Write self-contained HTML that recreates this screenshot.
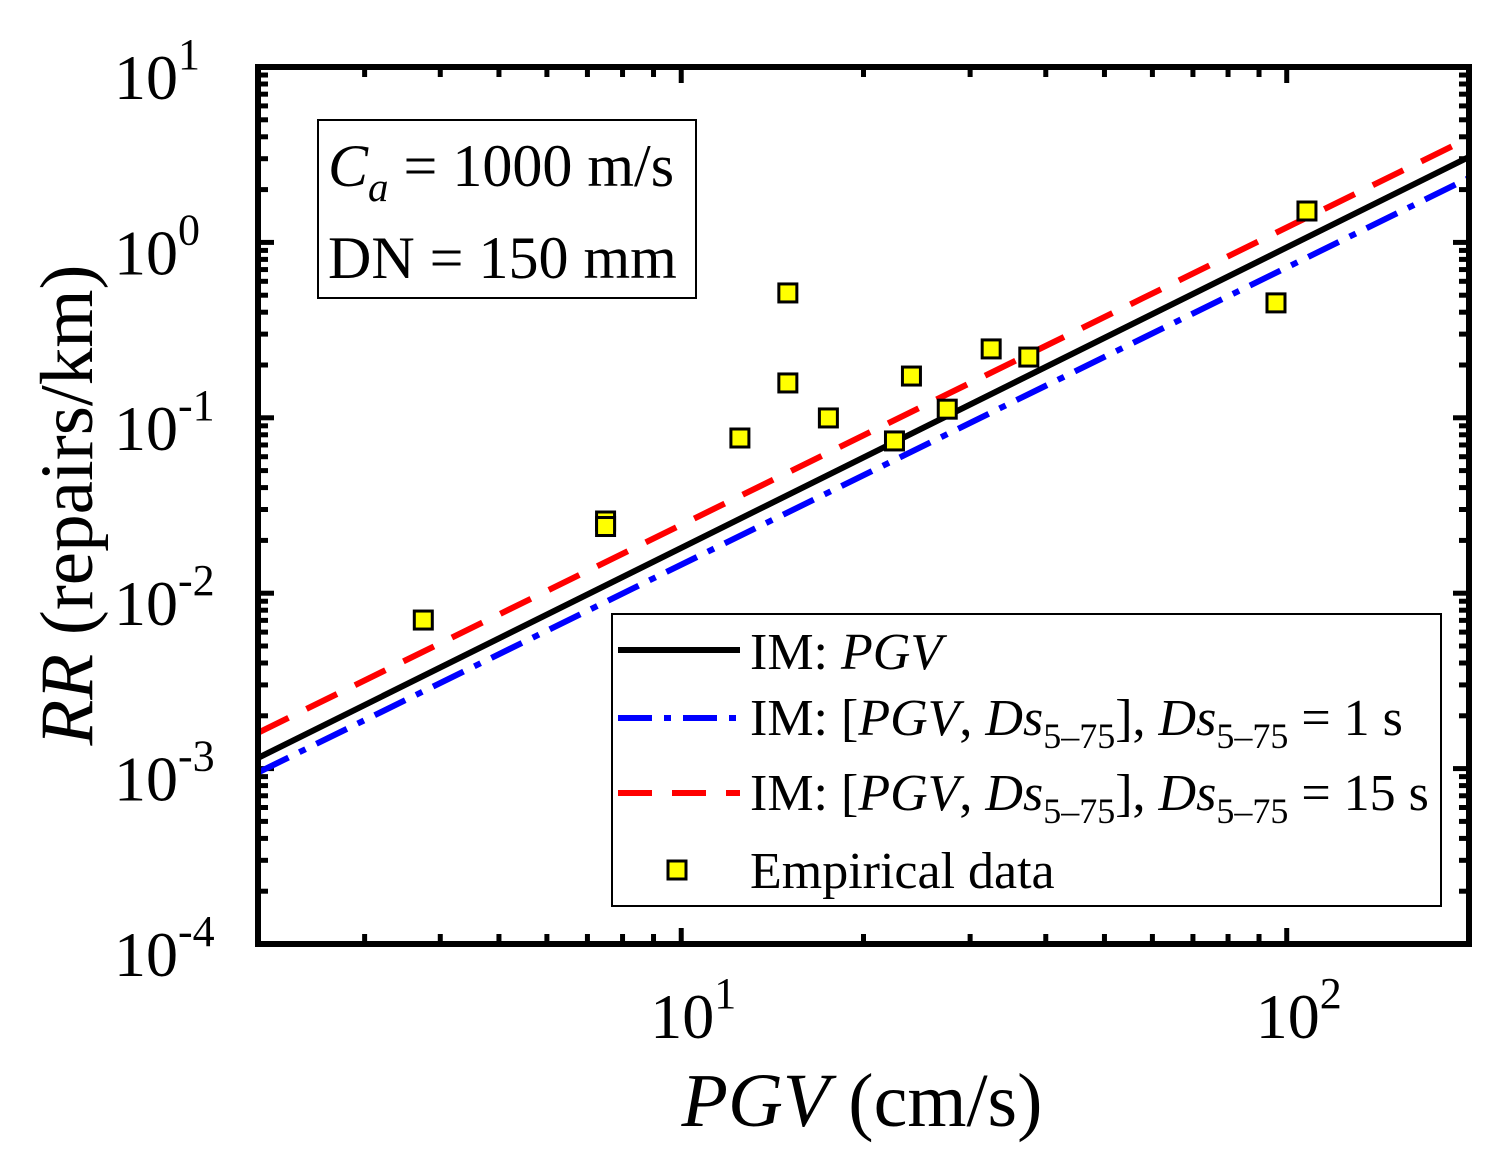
<!DOCTYPE html>
<html><head><meta charset="utf-8"><style>
body{margin:0;background:#fff}
svg{display:block;font-family:"Liberation Serif",serif}
</style></head><body>
<svg id="c" width="1510" height="1164" viewBox="0 0 1510 1164"></svg>
<script>
const xsData=[3.75,7.5,7.5,12.5,15,15,17.5,22.5,24,27.5,32.5,37.5,96,108];
const ysData=[0.00703,0.0258,0.0240,0.0767,0.515,0.158,0.0998,0.0738,0.173,0.112,0.247,0.222,0.452,1.51];
const lineX=[2,200];
const blackY=[0.00115,3.07];
const blueY=[0.00095,2.33];
const redY=[0.0016,3.94];
const xTickVals=[10,100];
const xTickLabels=["1","2"];
const yTickVals=[10,1,0.1,0.01,0.001,0.0001];
const yTickLabels=["1","0","-1","-2","-3","-4"];

const NS="http://www.w3.org/2000/svg";
const svg=document.getElementById('c');
const L=258,R=1469,T=67,B=944;
const X=v=>L+(Math.log10(v)-Math.log10(2))/2*(R-L);
const Y=v=>T+(1-Math.log10(v))/5*(B-T);
function el(t,a,p){const e=document.createElementNS(NS,t);for(const k in a)e.setAttribute(k,a[k]);(p||svg).appendChild(e);return e;}

for(let d=0;d<3;d++){for(let m=1;m<10;m++){const v=Math.pow(10,d)*m;if(v<2||v>200)continue;const x=X(v);const len=(m===1)?16:10;
const t1=el('line',{x1:x,y1:B,x2:x,y2:B-len,stroke:'#000','stroke-width':5});

const t2=el('line',{x1:x,y1:T,x2:x,y2:T+len,stroke:'#000','stroke-width':5});
}}
for(let d=-4;d<1;d++){for(let m=1;m<10;m++){const v=Math.pow(10,d)*m;const y=Y(v);const len=(m===1)?16:10;
const t1=el('line',{x1:L,y1:y,x2:L+len,y2:y,stroke:'#000','stroke-width':5});

const t2=el('line',{x1:R,y1:y,x2:R-len,y2:y,stroke:'#000','stroke-width':5});
}}

function ln(ys,col,dash,name){const p=el('line',{x1:X(lineX[0]),y1:Y(ys[0]),x2:X(lineX[1]),y2:Y(ys[1]),stroke:col,'stroke-width':6,'stroke-dasharray':dash});
}
ln(redY,'#ff0000','34 20','line-ds15');
ln(blackY,'#000','none','line-pgv');
ln(blueY,'#0000ff','34 12 7 12','line-ds1');

xsData.forEach((v,i)=>{const r=el('rect',{x:X(v)-9,y:Y(ysData[i])-9,width:18,height:18,fill:'#ffff00',stroke:'#000','stroke-width':3});
});

const f=el('rect',{x:L,y:T,width:R-L,height:B-T,fill:'none',stroke:'#000','stroke-width':6});


xTickVals.forEach((v,i)=>{const t=el('text',{x:X(v)+12,y:1038,'font-size':64,'text-anchor':'middle'});

t.innerHTML='10<tspan dy="-30" font-size="44">'+xTickLabels[i]+'</tspan>';});
yTickVals.forEach((v,i)=>{const t=el('text',{x:114,y:Y(v)+32,'font-size':64});

t.innerHTML='10<tspan dy="-30" font-size="44">'+yTickLabels[i].replace('-','&#8209;')+'</tspan>';});
</script>
<div style="position:absolute;left:0;top:0;width:1510px;height:1164px;pointer-events:none">
<svg width="1510" height="1164" style="position:absolute;left:0;top:0" font-family="Liberation Serif, serif">
<text x="862" y="1126" font-size="76" text-anchor="middle"><tspan font-style="italic">PGV</tspan> (cm/s)</text>
<text transform="translate(92,505) rotate(-90)" font-size="75" text-anchor="middle"><tspan font-style="italic">RR</tspan> (repairs/km)</text>
<g>
<rect x="318" y="120" width="378" height="178" fill="#fff" stroke="#000" stroke-width="2"/>
<text x="328" y="186" font-size="60"><tspan font-style="italic">C</tspan><tspan font-style="italic" font-size="41" dy="15">a</tspan><tspan dy="-15"> = 1000 m/s</tspan></text>
<text x="328" y="278" font-size="60">DN = 150 mm</text>
</g>
<g>
<rect x="612" y="614" width="829" height="292" fill="#fff" stroke="#000" stroke-width="2"/>
<line x1="618" y1="650" x2="740" y2="650" stroke="#000" stroke-width="6"/>
<text x="750" y="669" font-size="52">IM: <tspan font-style="italic">PGV</tspan></text>
<line x1="618" y1="718" x2="740" y2="718" stroke="#0000ff" stroke-width="6" stroke-dasharray="34 12 7 12"/>
<text x="750" y="735" font-size="52">IM: [<tspan font-style="italic">PGV</tspan>, <tspan font-style="italic">Ds</tspan><tspan font-size="36" dy="13">5–75</tspan><tspan dy="-13">], </tspan><tspan font-style="italic">Ds</tspan><tspan font-size="36" dy="13">5–75</tspan><tspan dy="-13"> = 1 s</tspan></text>
<line x1="618" y1="793" x2="740" y2="793" stroke="#ff0000" stroke-width="6" stroke-dasharray="34 20"/>
<text x="750" y="810" font-size="52">IM: [<tspan font-style="italic">PGV</tspan>, <tspan font-style="italic">Ds</tspan><tspan font-size="36" dy="13">5–75</tspan><tspan dy="-13">], </tspan><tspan font-style="italic">Ds</tspan><tspan font-size="36" dy="13">5–75</tspan><tspan dy="-13"> = 15 s</tspan></text>
<rect x="668" y="861" width="18" height="18" fill="#ffff00" stroke="#000" stroke-width="3"/>
<text x="750" y="888" font-size="52">Empirical data</text>
</g>
</svg></div>
</body></html>
